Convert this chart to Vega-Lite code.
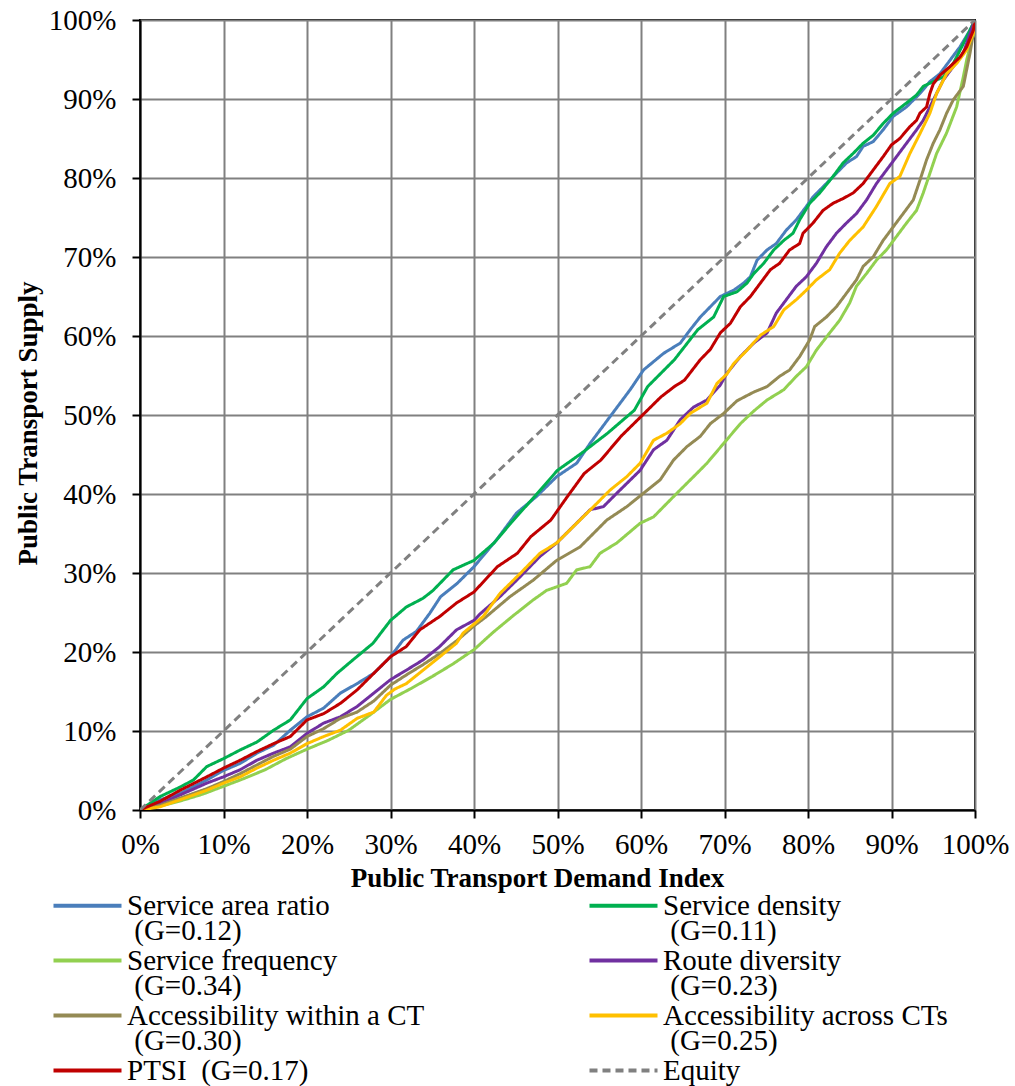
{
  "$schema": "https://vega.github.io/schema/vega-lite/v6.json",
  "width": 835,
  "height": 790,
  "autosize": {"type": "none"},
  "padding": {"left": 140, "top": 20, "right": 40, "bottom": 276},
  "background": "white",
  "config": {
    "view": {"stroke": "black", "strokeWidth": 2},
    "font": "Liberation Serif"
  },
  "datasets": {
    "curves": [
      {"s":"Service area ratio","x":0,"y":0},{"s":"Service area ratio","x":0.024,"y":0.013},{"s":"Service area ratio","x":0.048,"y":0.021},{"s":"Service area ratio","x":0.08,"y":0.038},{"s":"Service area ratio","x":0.1,"y":0.05},{"s":"Service area ratio","x":0.12,"y":0.059},{"s":"Service area ratio","x":0.14,"y":0.072},{"s":"Service area ratio","x":0.16,"y":0.082},{"s":"Service area ratio","x":0.18,"y":0.101},{"s":"Service area ratio","x":0.2,"y":0.118},{"s":"Service area ratio","x":0.22,"y":0.129},{"s":"Service area ratio","x":0.24,"y":0.148},{"s":"Service area ratio","x":0.26,"y":0.16},{"s":"Service area ratio","x":0.28,"y":0.173},{"s":"Service area ratio","x":0.3,"y":0.194},{"s":"Service area ratio","x":0.315,"y":0.215},{"s":"Service area ratio","x":0.331,"y":0.226},{"s":"Service area ratio","x":0.347,"y":0.249},{"s":"Service area ratio","x":0.36,"y":0.27},{"s":"Service area ratio","x":0.38,"y":0.287},{"s":"Service area ratio","x":0.4,"y":0.308},{"s":"Service area ratio","x":0.427,"y":0.342},{"s":"Service area ratio","x":0.451,"y":0.376},{"s":"Service area ratio","x":0.475,"y":0.397},{"s":"Service area ratio","x":0.499,"y":0.422},{"s":"Service area ratio","x":0.523,"y":0.439},{"s":"Service area ratio","x":0.539,"y":0.464},{"s":"Service area ratio","x":0.563,"y":0.498},{"s":"Service area ratio","x":0.587,"y":0.532},{"s":"Service area ratio","x":0.603,"y":0.557},{"s":"Service area ratio","x":0.627,"y":0.578},{"s":"Service area ratio","x":0.647,"y":0.591},{"s":"Service area ratio","x":0.659,"y":0.608},{"s":"Service area ratio","x":0.671,"y":0.624},{"s":"Service area ratio","x":0.683,"y":0.637},{"s":"Service area ratio","x":0.695,"y":0.65},{"s":"Service area ratio","x":0.711,"y":0.658},{"s":"Service area ratio","x":0.723,"y":0.667},{"s":"Service area ratio","x":0.731,"y":0.675},{"s":"Service area ratio","x":0.739,"y":0.696},{"s":"Service area ratio","x":0.751,"y":0.709},{"s":"Service area ratio","x":0.762,"y":0.717},{"s":"Service area ratio","x":0.774,"y":0.734},{"s":"Service area ratio","x":0.786,"y":0.747},{"s":"Service area ratio","x":0.798,"y":0.764},{"s":"Service area ratio","x":0.806,"y":0.776},{"s":"Service area ratio","x":0.822,"y":0.793},{"s":"Service area ratio","x":0.834,"y":0.806},{"s":"Service area ratio","x":0.846,"y":0.819},{"s":"Service area ratio","x":0.858,"y":0.827},{"s":"Service area ratio","x":0.866,"y":0.84},{"s":"Service area ratio","x":0.878,"y":0.846},{"s":"Service area ratio","x":0.89,"y":0.861},{"s":"Service area ratio","x":0.902,"y":0.878},{"s":"Service area ratio","x":0.918,"y":0.89},{"s":"Service area ratio","x":0.934,"y":0.907},{"s":"Service area ratio","x":0.946,"y":0.922},{"s":"Service area ratio","x":0.958,"y":0.932},{"s":"Service area ratio","x":0.97,"y":0.949},{"s":"Service area ratio","x":0.982,"y":0.966},{"s":"Service area ratio","x":0.994,"y":0.987},{"s":"Service area ratio","x":1,"y":1},
      {"s":"Service density","x":0,"y":0},{"s":"Service density","x":0.024,"y":0.017},{"s":"Service density","x":0.048,"y":0.029},{"s":"Service density","x":0.064,"y":0.038},{"s":"Service density","x":0.08,"y":0.055},{"s":"Service density","x":0.1,"y":0.065},{"s":"Service density","x":0.12,"y":0.076},{"s":"Service density","x":0.14,"y":0.086},{"s":"Service density","x":0.16,"y":0.101},{"s":"Service density","x":0.18,"y":0.114},{"s":"Service density","x":0.2,"y":0.141},{"s":"Service density","x":0.22,"y":0.156},{"s":"Service density","x":0.236,"y":0.173},{"s":"Service density","x":0.255,"y":0.19},{"s":"Service density","x":0.279,"y":0.211},{"s":"Service density","x":0.3,"y":0.24},{"s":"Service density","x":0.319,"y":0.257},{"s":"Service density","x":0.339,"y":0.268},{"s":"Service density","x":0.351,"y":0.278},{"s":"Service density","x":0.375,"y":0.304},{"s":"Service density","x":0.4,"y":0.316},{"s":"Service density","x":0.424,"y":0.338},{"s":"Service density","x":0.444,"y":0.363},{"s":"Service density","x":0.476,"y":0.401},{"s":"Service density","x":0.5,"y":0.43},{"s":"Service density","x":0.528,"y":0.451},{"s":"Service density","x":0.56,"y":0.477},{"s":"Service density","x":0.592,"y":0.506},{"s":"Service density","x":0.608,"y":0.536},{"s":"Service density","x":0.64,"y":0.57},{"s":"Service density","x":0.668,"y":0.608},{"s":"Service density","x":0.687,"y":0.624},{"s":"Service density","x":0.699,"y":0.65},{"s":"Service density","x":0.715,"y":0.656},{"s":"Service density","x":0.727,"y":0.667},{"s":"Service density","x":0.735,"y":0.679},{"s":"Service density","x":0.747,"y":0.692},{"s":"Service density","x":0.759,"y":0.709},{"s":"Service density","x":0.771,"y":0.721},{"s":"Service density","x":0.782,"y":0.73},{"s":"Service density","x":0.79,"y":0.747},{"s":"Service density","x":0.802,"y":0.768},{"s":"Service density","x":0.814,"y":0.781},{"s":"Service density","x":0.83,"y":0.802},{"s":"Service density","x":0.842,"y":0.819},{"s":"Service density","x":0.854,"y":0.831},{"s":"Service density","x":0.866,"y":0.844},{"s":"Service density","x":0.878,"y":0.854},{"s":"Service density","x":0.89,"y":0.869},{"s":"Service density","x":0.902,"y":0.882},{"s":"Service density","x":0.918,"y":0.895},{"s":"Service density","x":0.93,"y":0.905},{"s":"Service density","x":0.938,"y":0.916},{"s":"Service density","x":0.95,"y":0.922},{"s":"Service density","x":0.962,"y":0.928},{"s":"Service density","x":0.974,"y":0.945},{"s":"Service density","x":0.986,"y":0.97},{"s":"Service density","x":1,"y":1},
      {"s":"Service frequency","x":0,"y":0},{"s":"Service frequency","x":0.024,"y":0.005},{"s":"Service frequency","x":0.05,"y":0.012},{"s":"Service frequency","x":0.075,"y":0.02},{"s":"Service frequency","x":0.1,"y":0.03},{"s":"Service frequency","x":0.125,"y":0.04},{"s":"Service frequency","x":0.15,"y":0.051},{"s":"Service frequency","x":0.175,"y":0.065},{"s":"Service frequency","x":0.2,"y":0.077},{"s":"Service frequency","x":0.225,"y":0.088},{"s":"Service frequency","x":0.25,"y":0.101},{"s":"Service frequency","x":0.275,"y":0.12},{"s":"Service frequency","x":0.3,"y":0.14},{"s":"Service frequency","x":0.325,"y":0.154},{"s":"Service frequency","x":0.35,"y":0.169},{"s":"Service frequency","x":0.375,"y":0.185},{"s":"Service frequency","x":0.4,"y":0.203},{"s":"Service frequency","x":0.423,"y":0.225},{"s":"Service frequency","x":0.447,"y":0.246},{"s":"Service frequency","x":0.471,"y":0.266},{"s":"Service frequency","x":0.487,"y":0.278},{"s":"Service frequency","x":0.511,"y":0.287},{"s":"Service frequency","x":0.523,"y":0.304},{"s":"Service frequency","x":0.539,"y":0.308},{"s":"Service frequency","x":0.551,"y":0.325},{"s":"Service frequency","x":0.571,"y":0.338},{"s":"Service frequency","x":0.599,"y":0.363},{"s":"Service frequency","x":0.615,"y":0.371},{"s":"Service frequency","x":0.643,"y":0.401},{"s":"Service frequency","x":0.663,"y":0.422},{"s":"Service frequency","x":0.679,"y":0.439},{"s":"Service frequency","x":0.699,"y":0.464},{"s":"Service frequency","x":0.719,"y":0.489},{"s":"Service frequency","x":0.735,"y":0.505},{"s":"Service frequency","x":0.751,"y":0.519},{"s":"Service frequency","x":0.771,"y":0.532},{"s":"Service frequency","x":0.786,"y":0.549},{"s":"Service frequency","x":0.798,"y":0.561},{"s":"Service frequency","x":0.81,"y":0.582},{"s":"Service frequency","x":0.826,"y":0.604},{"s":"Service frequency","x":0.838,"y":0.62},{"s":"Service frequency","x":0.85,"y":0.642},{"s":"Service frequency","x":0.858,"y":0.663},{"s":"Service frequency","x":0.87,"y":0.679},{"s":"Service frequency","x":0.882,"y":0.696},{"s":"Service frequency","x":0.894,"y":0.709},{"s":"Service frequency","x":0.906,"y":0.726},{"s":"Service frequency","x":0.918,"y":0.743},{"s":"Service frequency","x":0.93,"y":0.759},{"s":"Service frequency","x":0.938,"y":0.781},{"s":"Service frequency","x":0.946,"y":0.806},{"s":"Service frequency","x":0.954,"y":0.831},{"s":"Service frequency","x":0.966,"y":0.857},{"s":"Service frequency","x":0.978,"y":0.89},{"s":"Service frequency","x":0.986,"y":0.928},{"s":"Service frequency","x":0.99,"y":0.949},{"s":"Service frequency","x":0.996,"y":0.975},{"s":"Service frequency","x":1,"y":0.985},
      {"s":"Route diversity","x":0,"y":0},{"s":"Route diversity","x":0.024,"y":0.008},{"s":"Route diversity","x":0.048,"y":0.019},{"s":"Route diversity","x":0.08,"y":0.034},{"s":"Route diversity","x":0.1,"y":0.042},{"s":"Route diversity","x":0.12,"y":0.051},{"s":"Route diversity","x":0.14,"y":0.063},{"s":"Route diversity","x":0.16,"y":0.072},{"s":"Route diversity","x":0.18,"y":0.08},{"s":"Route diversity","x":0.2,"y":0.097},{"s":"Route diversity","x":0.22,"y":0.11},{"s":"Route diversity","x":0.24,"y":0.118},{"s":"Route diversity","x":0.26,"y":0.131},{"s":"Route diversity","x":0.28,"y":0.148},{"s":"Route diversity","x":0.3,"y":0.165},{"s":"Route diversity","x":0.319,"y":0.177},{"s":"Route diversity","x":0.339,"y":0.19},{"s":"Route diversity","x":0.359,"y":0.207},{"s":"Route diversity","x":0.379,"y":0.228},{"s":"Route diversity","x":0.4,"y":0.24},{"s":"Route diversity","x":0.407,"y":0.248},{"s":"Route diversity","x":0.431,"y":0.27},{"s":"Route diversity","x":0.455,"y":0.295},{"s":"Route diversity","x":0.479,"y":0.321},{"s":"Route diversity","x":0.499,"y":0.338},{"s":"Route diversity","x":0.519,"y":0.359},{"s":"Route diversity","x":0.539,"y":0.38},{"s":"Route diversity","x":0.555,"y":0.384},{"s":"Route diversity","x":0.571,"y":0.401},{"s":"Route diversity","x":0.599,"y":0.43},{"s":"Route diversity","x":0.615,"y":0.456},{"s":"Route diversity","x":0.631,"y":0.468},{"s":"Route diversity","x":0.647,"y":0.494},{"s":"Route diversity","x":0.663,"y":0.51},{"s":"Route diversity","x":0.679,"y":0.519},{"s":"Route diversity","x":0.695,"y":0.538},{"s":"Route diversity","x":0.703,"y":0.553},{"s":"Route diversity","x":0.719,"y":0.574},{"s":"Route diversity","x":0.735,"y":0.591},{"s":"Route diversity","x":0.751,"y":0.604},{"s":"Route diversity","x":0.762,"y":0.629},{"s":"Route diversity","x":0.774,"y":0.646},{"s":"Route diversity","x":0.786,"y":0.663},{"s":"Route diversity","x":0.798,"y":0.675},{"s":"Route diversity","x":0.81,"y":0.692},{"s":"Route diversity","x":0.822,"y":0.713},{"s":"Route diversity","x":0.834,"y":0.73},{"s":"Route diversity","x":0.846,"y":0.743},{"s":"Route diversity","x":0.858,"y":0.755},{"s":"Route diversity","x":0.87,"y":0.772},{"s":"Route diversity","x":0.882,"y":0.793},{"s":"Route diversity","x":0.894,"y":0.81},{"s":"Route diversity","x":0.906,"y":0.827},{"s":"Route diversity","x":0.918,"y":0.844},{"s":"Route diversity","x":0.93,"y":0.861},{"s":"Route diversity","x":0.938,"y":0.873},{"s":"Route diversity","x":0.946,"y":0.89},{"s":"Route diversity","x":0.954,"y":0.907},{"s":"Route diversity","x":0.962,"y":0.924},{"s":"Route diversity","x":0.974,"y":0.941},{"s":"Route diversity","x":0.986,"y":0.958},{"s":"Route diversity","x":0.994,"y":0.983},{"s":"Route diversity","x":1,"y":1},
      {"s":"Accessibility within a CT","x":0,"y":0},{"s":"Accessibility within a CT","x":0.024,"y":0.006},{"s":"Accessibility within a CT","x":0.048,"y":0.015},{"s":"Accessibility within a CT","x":0.08,"y":0.027},{"s":"Accessibility within a CT","x":0.1,"y":0.036},{"s":"Accessibility within a CT","x":0.12,"y":0.046},{"s":"Accessibility within a CT","x":0.14,"y":0.057},{"s":"Accessibility within a CT","x":0.16,"y":0.068},{"s":"Accessibility within a CT","x":0.18,"y":0.077},{"s":"Accessibility within a CT","x":0.2,"y":0.093},{"s":"Accessibility within a CT","x":0.22,"y":0.103},{"s":"Accessibility within a CT","x":0.24,"y":0.116},{"s":"Accessibility within a CT","x":0.26,"y":0.124},{"s":"Accessibility within a CT","x":0.28,"y":0.138},{"s":"Accessibility within a CT","x":0.3,"y":0.158},{"s":"Accessibility within a CT","x":0.319,"y":0.171},{"s":"Accessibility within a CT","x":0.339,"y":0.184},{"s":"Accessibility within a CT","x":0.359,"y":0.198},{"s":"Accessibility within a CT","x":0.379,"y":0.214},{"s":"Accessibility within a CT","x":0.4,"y":0.233},{"s":"Accessibility within a CT","x":0.415,"y":0.245},{"s":"Accessibility within a CT","x":0.443,"y":0.27},{"s":"Accessibility within a CT","x":0.471,"y":0.291},{"s":"Accessibility within a CT","x":0.499,"y":0.316},{"s":"Accessibility within a CT","x":0.527,"y":0.333},{"s":"Accessibility within a CT","x":0.543,"y":0.35},{"s":"Accessibility within a CT","x":0.559,"y":0.367},{"s":"Accessibility within a CT","x":0.583,"y":0.384},{"s":"Accessibility within a CT","x":0.603,"y":0.401},{"s":"Accessibility within a CT","x":0.623,"y":0.418},{"s":"Accessibility within a CT","x":0.639,"y":0.443},{"s":"Accessibility within a CT","x":0.655,"y":0.46},{"s":"Accessibility within a CT","x":0.671,"y":0.473},{"s":"Accessibility within a CT","x":0.683,"y":0.489},{"s":"Accessibility within a CT","x":0.699,"y":0.502},{"s":"Accessibility within a CT","x":0.715,"y":0.518},{"s":"Accessibility within a CT","x":0.735,"y":0.529},{"s":"Accessibility within a CT","x":0.751,"y":0.536},{"s":"Accessibility within a CT","x":0.766,"y":0.549},{"s":"Accessibility within a CT","x":0.778,"y":0.557},{"s":"Accessibility within a CT","x":0.79,"y":0.574},{"s":"Accessibility within a CT","x":0.802,"y":0.595},{"s":"Accessibility within a CT","x":0.808,"y":0.612},{"s":"Accessibility within a CT","x":0.822,"y":0.624},{"s":"Accessibility within a CT","x":0.834,"y":0.637},{"s":"Accessibility within a CT","x":0.846,"y":0.654},{"s":"Accessibility within a CT","x":0.858,"y":0.671},{"s":"Accessibility within a CT","x":0.866,"y":0.688},{"s":"Accessibility within a CT","x":0.878,"y":0.7},{"s":"Accessibility within a CT","x":0.89,"y":0.721},{"s":"Accessibility within a CT","x":0.902,"y":0.738},{"s":"Accessibility within a CT","x":0.914,"y":0.755},{"s":"Accessibility within a CT","x":0.926,"y":0.772},{"s":"Accessibility within a CT","x":0.934,"y":0.797},{"s":"Accessibility within a CT","x":0.942,"y":0.823},{"s":"Accessibility within a CT","x":0.95,"y":0.844},{"s":"Accessibility within a CT","x":0.958,"y":0.861},{"s":"Accessibility within a CT","x":0.966,"y":0.882},{"s":"Accessibility within a CT","x":0.974,"y":0.899},{"s":"Accessibility within a CT","x":0.986,"y":0.916},{"s":"Accessibility within a CT","x":0.99,"y":0.937},{"s":"Accessibility within a CT","x":0.994,"y":0.958},{"s":"Accessibility within a CT","x":0.998,"y":0.983},{"s":"Accessibility within a CT","x":1,"y":0.99},
      {"s":"Accessibility across CTs","x":0,"y":0},{"s":"Accessibility across CTs","x":0.024,"y":0.004},{"s":"Accessibility across CTs","x":0.048,"y":0.013},{"s":"Accessibility across CTs","x":0.08,"y":0.025},{"s":"Accessibility across CTs","x":0.1,"y":0.034},{"s":"Accessibility across CTs","x":0.12,"y":0.042},{"s":"Accessibility across CTs","x":0.14,"y":0.053},{"s":"Accessibility across CTs","x":0.16,"y":0.063},{"s":"Accessibility across CTs","x":0.18,"y":0.072},{"s":"Accessibility across CTs","x":0.2,"y":0.084},{"s":"Accessibility across CTs","x":0.22,"y":0.093},{"s":"Accessibility across CTs","x":0.24,"y":0.101},{"s":"Accessibility across CTs","x":0.26,"y":0.116},{"s":"Accessibility across CTs","x":0.28,"y":0.124},{"s":"Accessibility across CTs","x":0.295,"y":0.145},{"s":"Accessibility across CTs","x":0.305,"y":0.153},{"s":"Accessibility across CTs","x":0.319,"y":0.16},{"s":"Accessibility across CTs","x":0.339,"y":0.177},{"s":"Accessibility across CTs","x":0.359,"y":0.194},{"s":"Accessibility across CTs","x":0.379,"y":0.211},{"s":"Accessibility across CTs","x":0.387,"y":0.224},{"s":"Accessibility across CTs","x":0.411,"y":0.245},{"s":"Accessibility across CTs","x":0.431,"y":0.274},{"s":"Accessibility across CTs","x":0.455,"y":0.299},{"s":"Accessibility across CTs","x":0.479,"y":0.325},{"s":"Accessibility across CTs","x":0.499,"y":0.338},{"s":"Accessibility across CTs","x":0.523,"y":0.363},{"s":"Accessibility across CTs","x":0.547,"y":0.388},{"s":"Accessibility across CTs","x":0.563,"y":0.405},{"s":"Accessibility across CTs","x":0.583,"y":0.422},{"s":"Accessibility across CTs","x":0.599,"y":0.439},{"s":"Accessibility across CTs","x":0.615,"y":0.468},{"s":"Accessibility across CTs","x":0.631,"y":0.477},{"s":"Accessibility across CTs","x":0.647,"y":0.489},{"s":"Accessibility across CTs","x":0.659,"y":0.502},{"s":"Accessibility across CTs","x":0.679,"y":0.515},{"s":"Accessibility across CTs","x":0.691,"y":0.54},{"s":"Accessibility across CTs","x":0.703,"y":0.552},{"s":"Accessibility across CTs","x":0.711,"y":0.565},{"s":"Accessibility across CTs","x":0.727,"y":0.582},{"s":"Accessibility across CTs","x":0.743,"y":0.601},{"s":"Accessibility across CTs","x":0.759,"y":0.612},{"s":"Accessibility across CTs","x":0.771,"y":0.633},{"s":"Accessibility across CTs","x":0.786,"y":0.646},{"s":"Accessibility across CTs","x":0.798,"y":0.658},{"s":"Accessibility across CTs","x":0.81,"y":0.671},{"s":"Accessibility across CTs","x":0.826,"y":0.684},{"s":"Accessibility across CTs","x":0.838,"y":0.705},{"s":"Accessibility across CTs","x":0.85,"y":0.721},{"s":"Accessibility across CTs","x":0.866,"y":0.738},{"s":"Accessibility across CTs","x":0.882,"y":0.764},{"s":"Accessibility across CTs","x":0.898,"y":0.793},{"s":"Accessibility across CTs","x":0.91,"y":0.802},{"s":"Accessibility across CTs","x":0.922,"y":0.831},{"s":"Accessibility across CTs","x":0.934,"y":0.856},{"s":"Accessibility across CTs","x":0.946,"y":0.882},{"s":"Accessibility across CTs","x":0.954,"y":0.907},{"s":"Accessibility across CTs","x":0.966,"y":0.932},{"s":"Accessibility across CTs","x":0.978,"y":0.945},{"s":"Accessibility across CTs","x":0.99,"y":0.962},{"s":"Accessibility across CTs","x":0.998,"y":0.983},{"s":"Accessibility across CTs","x":1,"y":1},
      {"s":"PTSI","x":0,"y":0},{"s":"PTSI","x":0.024,"y":0.011},{"s":"PTSI","x":0.048,"y":0.025},{"s":"PTSI","x":0.08,"y":0.042},{"s":"PTSI","x":0.1,"y":0.053},{"s":"PTSI","x":0.12,"y":0.063},{"s":"PTSI","x":0.14,"y":0.074},{"s":"PTSI","x":0.16,"y":0.084},{"s":"PTSI","x":0.18,"y":0.093},{"s":"PTSI","x":0.2,"y":0.114},{"s":"PTSI","x":0.22,"y":0.122},{"s":"PTSI","x":0.24,"y":0.135},{"s":"PTSI","x":0.26,"y":0.152},{"s":"PTSI","x":0.28,"y":0.173},{"s":"PTSI","x":0.3,"y":0.194},{"s":"PTSI","x":0.319,"y":0.207},{"s":"PTSI","x":0.335,"y":0.228},{"s":"PTSI","x":0.359,"y":0.245},{"s":"PTSI","x":0.379,"y":0.262},{"s":"PTSI","x":0.4,"y":0.276},{"s":"PTSI","x":0.428,"y":0.308},{"s":"PTSI","x":0.452,"y":0.325},{"s":"PTSI","x":0.468,"y":0.346},{"s":"PTSI","x":0.492,"y":0.367},{"s":"PTSI","x":0.512,"y":0.397},{"s":"PTSI","x":0.532,"y":0.426},{"s":"PTSI","x":0.552,"y":0.443},{"s":"PTSI","x":0.576,"y":0.473},{"s":"PTSI","x":0.6,"y":0.498},{"s":"PTSI","x":0.624,"y":0.523},{"s":"PTSI","x":0.64,"y":0.536},{"s":"PTSI","x":0.652,"y":0.544},{"s":"PTSI","x":0.671,"y":0.57},{"s":"PTSI","x":0.683,"y":0.583},{"s":"PTSI","x":0.695,"y":0.604},{"s":"PTSI","x":0.707,"y":0.616},{"s":"PTSI","x":0.719,"y":0.637},{"s":"PTSI","x":0.731,"y":0.65},{"s":"PTSI","x":0.743,"y":0.667},{"s":"PTSI","x":0.755,"y":0.684},{"s":"PTSI","x":0.766,"y":0.692},{"s":"PTSI","x":0.778,"y":0.709},{"s":"PTSI","x":0.79,"y":0.717},{"s":"PTSI","x":0.794,"y":0.73},{"s":"PTSI","x":0.806,"y":0.743},{"s":"PTSI","x":0.818,"y":0.759},{"s":"PTSI","x":0.83,"y":0.768},{"s":"PTSI","x":0.842,"y":0.774},{"s":"PTSI","x":0.854,"y":0.781},{"s":"PTSI","x":0.866,"y":0.793},{"s":"PTSI","x":0.878,"y":0.81},{"s":"PTSI","x":0.89,"y":0.827},{"s":"PTSI","x":0.9,"y":0.842},{"s":"PTSI","x":0.91,"y":0.85},{"s":"PTSI","x":0.922,"y":0.865},{"s":"PTSI","x":0.93,"y":0.873},{"s":"PTSI","x":0.934,"y":0.882},{"s":"PTSI","x":0.942,"y":0.89},{"s":"PTSI","x":0.946,"y":0.907},{"s":"PTSI","x":0.95,"y":0.919},{"s":"PTSI","x":0.958,"y":0.93},{"s":"PTSI","x":0.97,"y":0.941},{"s":"PTSI","x":0.982,"y":0.953},{"s":"PTSI","x":0.99,"y":0.966},{"s":"PTSI","x":0.998,"y":0.987},{"s":"PTSI","x":1,"y":1},
      {"s":"Equity","x":0,"y":0},{"s":"Equity","x":1,"y":1}
    ]
  },
  "data": {"name": "curves"},
  "mark": {"type": "line", "strokeWidth": 3, "clip": true},
  "encoding": {
    "x": {"field": "x", "type": "quantitative", "scale": {"domain": [0, 1], "nice": false},
      "axis": {"format": ".0%", "values": [0,0.1,0.2,0.3,0.4,0.5,0.6,0.7,0.8,0.9,1],
        "title": "Public Transport Demand Index", "titleFont": "Liberation Serif", "titleFontSize": 27, "titleFontWeight": "bold", "titleColor": "black",
        "titleX": 397, "titleY": 68, "titleBaseline": "middle", "titleAnchor": "middle",
        "labelFont": "Liberation Serif", "labelFontSize": 29, "labelColor": "black", "labelPadding": 12,
        "labelFlush": false, "labelOverlap": false,
        "domainColor": "black", "domainWidth": 2, "tickColor": "black", "tickWidth": 2, "tickSize": 8,
        "gridColor": "#808080", "gridWidth": 2, "gridOpacity": 1}},
    "y": {"field": "y", "type": "quantitative", "scale": {"domain": [0, 1], "nice": false},
      "axis": {"format": ".0%", "values": [0,0.1,0.2,0.3,0.4,0.5,0.6,0.7,0.8,0.9,1],
        "title": "Public Transport Supply", "titleFont": "Liberation Serif", "titleFontSize": 27, "titleFontWeight": "bold", "titleColor": "black",
        "titleX": -112, "titleY": 403, "titleAngle": -90, "titleBaseline": "middle", "titleAlign": "center",
        "labelFont": "Liberation Serif", "labelFontSize": 29, "labelColor": "black", "labelPadding": 16,
        "labelFlush": false, "labelOverlap": false,
        "domainColor": "black", "domainWidth": 2, "tickColor": "black", "tickWidth": 2, "tickSize": 8,
        "gridColor": "#808080", "gridWidth": 2, "gridOpacity": 1}},
    "color": {"field": "s", "type": "nominal", "title": null,
      "scale": {"domain": ["Service area ratio","Service density","Service frequency","Route diversity","Accessibility within a CT","Accessibility across CTs","PTSI","Equity"],
        "range": ["#4A7EBB","#00B050","#92D050","#7030A0","#948A54","#FFC000","#C00000","#808080"]},
      "legend": {"orient": "none", "legendX": -67, "legendY": 871, "columns": 2, "direction": "horizontal",
        "symbolType": "M-3,0H3", "symbolSize": 514, "symbolStrokeWidth": 4, "labelOffset": 25,
        "labelFont": "Liberation Serif", "labelFontSize": 29, "labelColor": "black", "labelLimit": 500,
        "columnPadding": 156, "rowPadding": 0, "padding": 0,
        "labelExpr": "{'Service area ratio':['Service area ratio','\u200b\u00a0(G=0.12)'],'Service density':['Service density','\u200b\u00a0(G=0.11)'],'Service frequency':['Service frequency','\u200b\u00a0(G=0.34)'],'Route diversity':['Route diversity','\u200b\u00a0(G=0.23)'],'Accessibility within a CT':['Accessibility within a CT','\u200b\u00a0(G=0.30)'],'Accessibility across CTs':['Accessibility across CTs','\u200b\u00a0(G=0.25)'],'PTSI':['PTSI\u00a0\u00a0(G=0.17)',''],'Equity':['Equity','']}[datum.label]",
        "encode": {"labels": {"update": {"lineHeight": {"value": 25}}}}}},
    "strokeDash": {"field": "s", "type": "nominal", "title": null,
      "scale": {"domain": ["Service area ratio","Service density","Service frequency","Route diversity","Accessibility within a CT","Accessibility across CTs","PTSI","Equity"],
        "range": [[1,0],[1,0],[1,0],[1,0],[1,0],[1,0],[1,0],[8,5]]}}
  }
}
